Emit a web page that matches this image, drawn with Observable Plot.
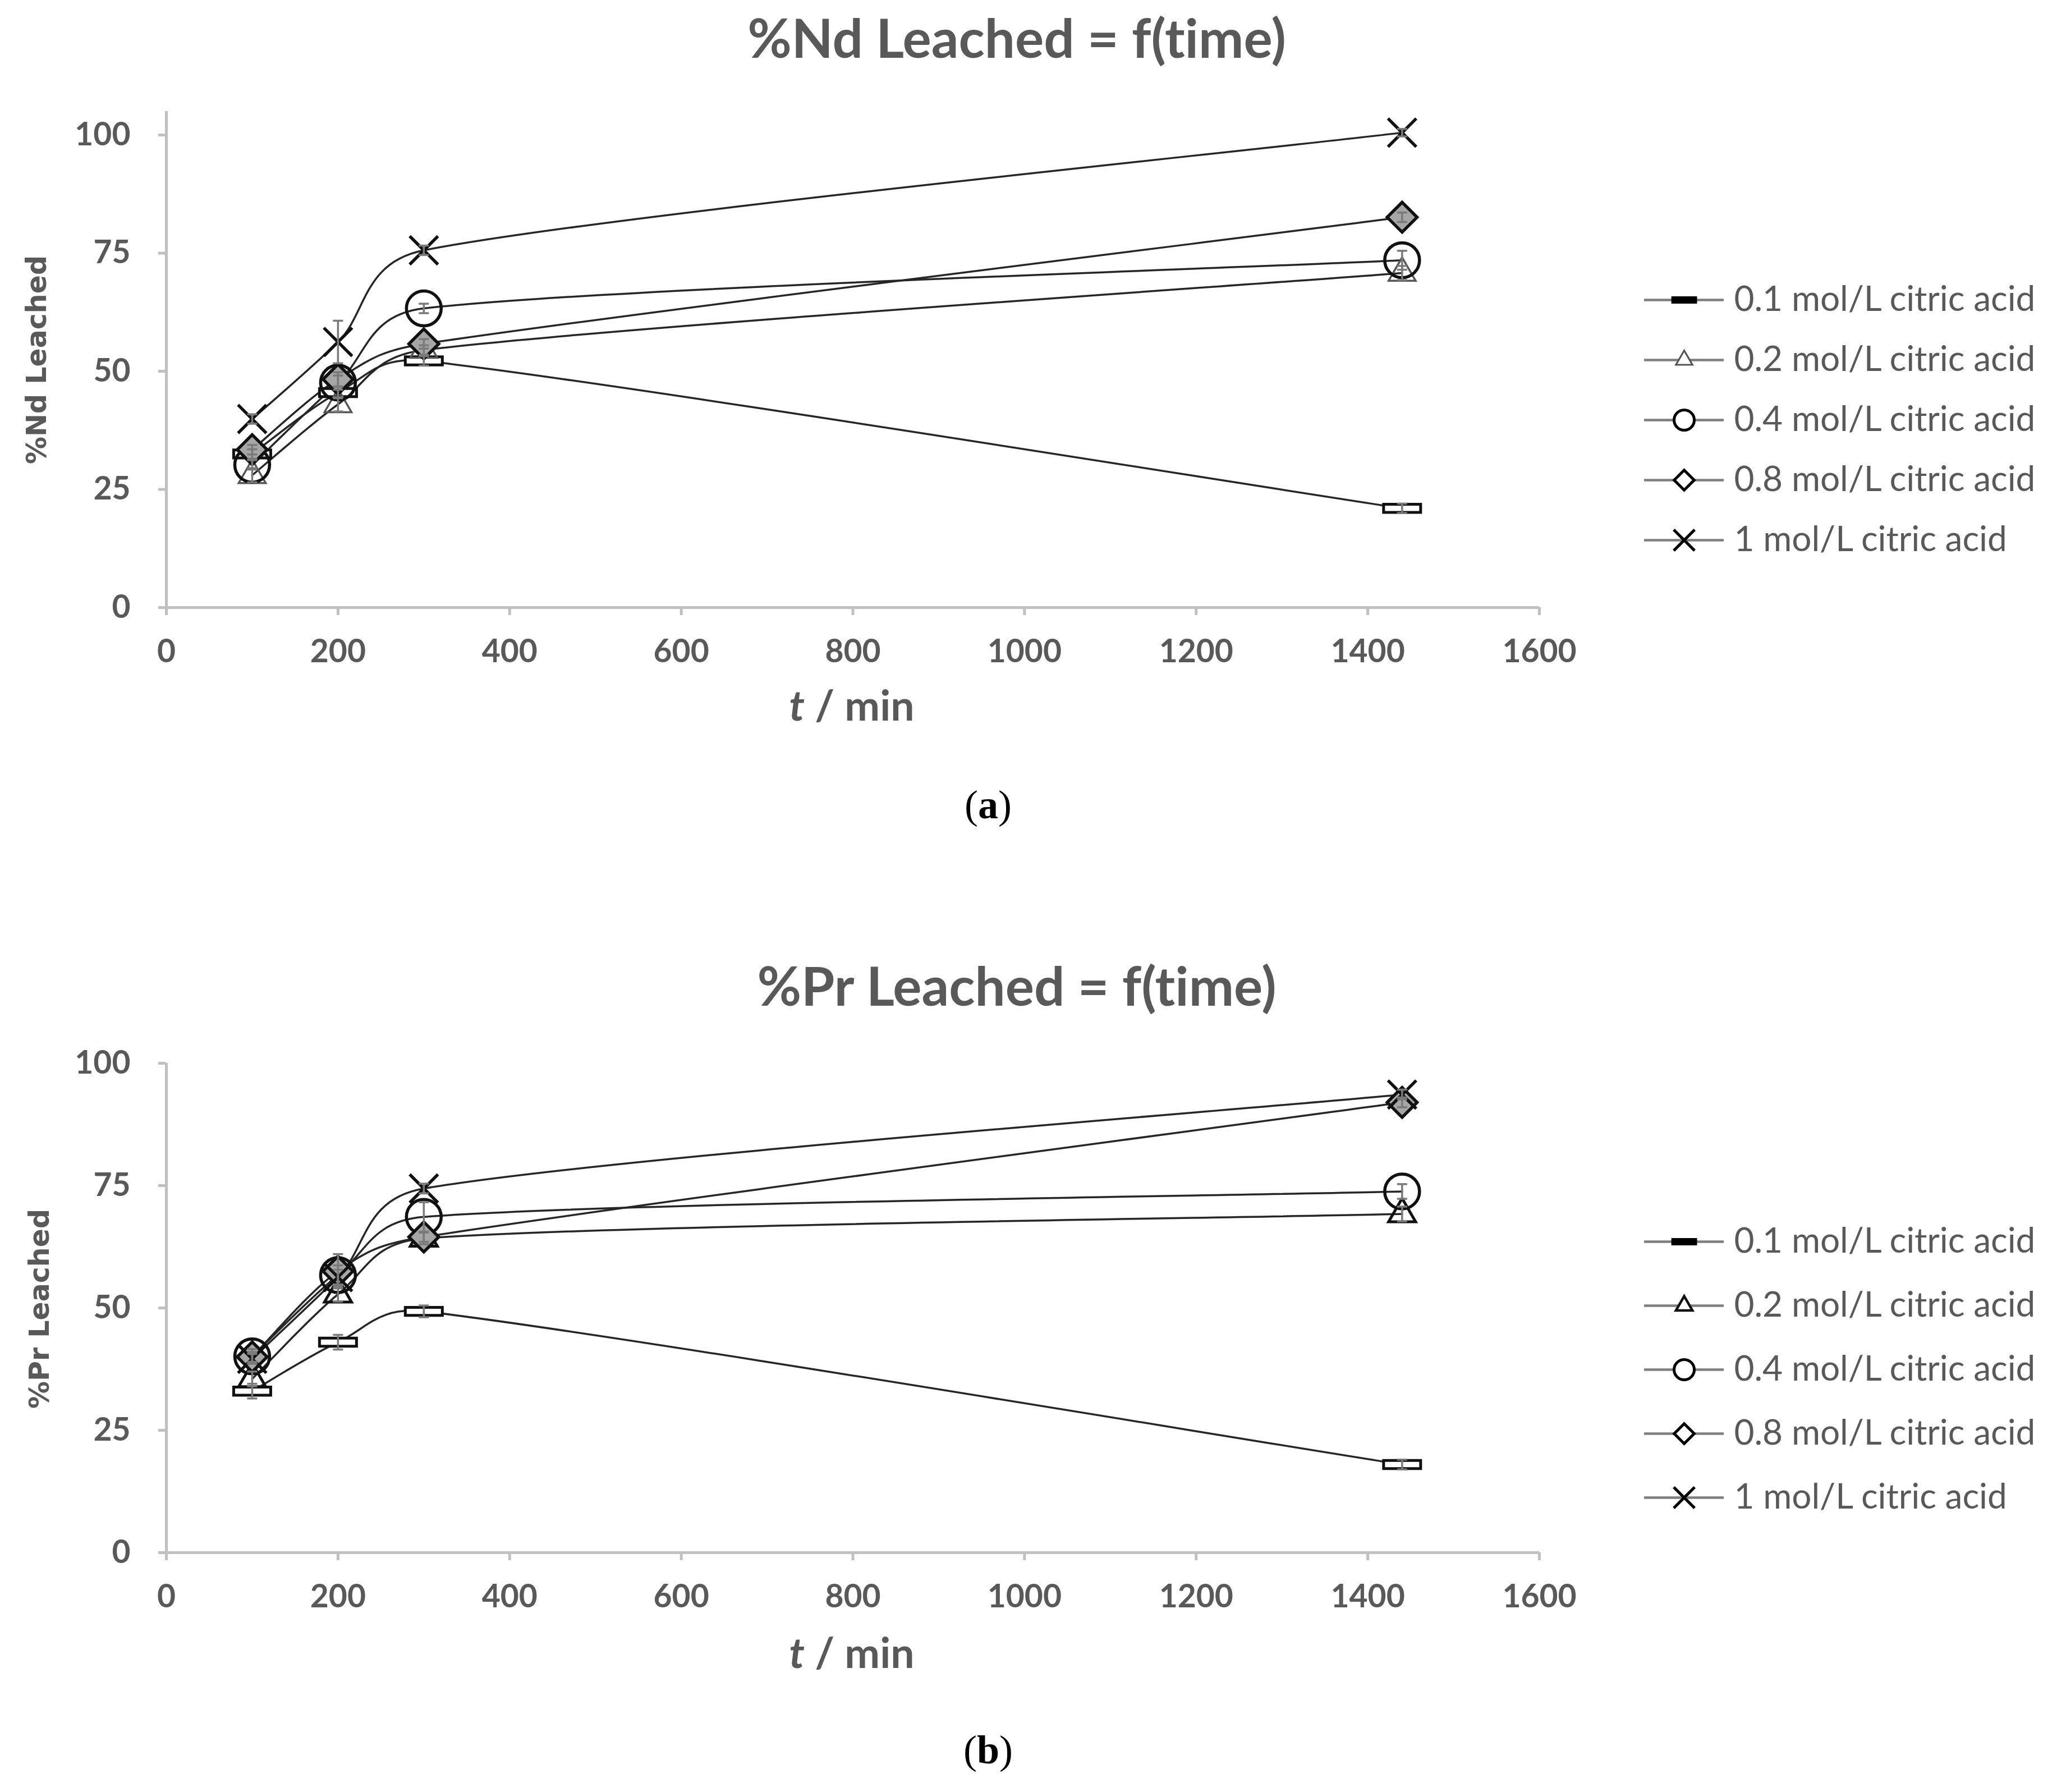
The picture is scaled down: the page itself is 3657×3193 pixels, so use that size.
<!DOCTYPE html>
<html>
<head>
<meta charset="utf-8">
<script src="https://cdn.jsdelivr.net/npm/d3@7"></script>
<script src="https://cdn.jsdelivr.net/npm/@observablehq/plot@0.6"></script>
<style>
html, body { margin: 0; padding: 0; background: #fff; }
* { font-variant-ligatures: none; font-feature-settings: "liga" 0, "clig" 0; }
text { font-variant-ligatures: none; font-feature-settings: "liga" 0, "clig" 0; }
#page { position: relative; width: 3657px; height: 3193px; overflow: hidden; background: #fff; }
.abs { position: absolute; white-space: nowrap; }
.title { font-family: Lato, "Open Sans", sans-serif; font-weight: 700; color: #595959; font-size: 96px; transform: translate(-50%, -50%); }
.ylab { font-family: "DejaVu Sans", sans-serif; font-weight: 700; color: #595959; font-size: 49px; transform: translate(-50%, -50%) rotate(-90deg); }
.xlab { font-family: Lato, sans-serif; font-weight: 700; color: #595959; font-size: 75px; transform: translate(-50%, -50%); }
.cap { font-family: "Liberation Serif", "DejaVu Serif", serif; color: #000; font-size: 72px; transform: translate(-50%, -50%); }
svg { position: absolute; }
</style>
</head>
<body>
<div id="page"></div>
<script>
// ---------------- data ----------------
const times = [100, 200, 300, 1440];
const seriesNames = ["0.1 mol/L citric acid", "0.2 mol/L citric acid", "0.4 mol/L citric acid", "0.8 mol/L citric acid", "1 mol/L citric acid"];
const xTicks = [0, 200, 400, 600, 800, 1000, 1200, 1400, 1600];
const yTicks = [0, 25, 50, 75, 100];

// %Nd leached
const nd01 = [32.5, 45.5, 52.2, 21];
const nd02 = [28, 43, 54.5, 70.8];
const nd04 = [30.2, 47.6, 63.3, 73.5];
const nd08 = [33.4, 48.3, 55.8, 82.6];
const nd10 = [39.9, 56.2, 75.6, 100.5];
const ndErr01 = [1, 1.2, 1, 1];
const ndErr02 = [1.5, 1.5, 1, 1.5];
const ndErr04 = [1, 1.5, 1, 2];
const ndErr08 = [1, 1.5, 1, 1];
const ndErr10 = [1, 4.5, 1, 0.8];

// %Pr leached
const pr01 = [33, 43, 49.3, 18];
const pr02 = [35.5, 52.8, 64.2, 69.2];
const pr04 = [40.1, 56.7, 68.6, 73.8];
const pr08 = [40, 57.5, 64.5, 92];
const pr10 = [39.6, 56.3, 74.4, 93.6];
const prErr01 = [1.5, 1.5, 1.2, 1];
const prErr02 = [1.5, 1.5, 1.2, 1.5];
const prErr04 = [1.5, 2, 3, 1.5];
const prErr08 = [1, 3.5, 1, 1];
const prErr10 = [1, 1.5, 1, 1];

// ---------------- helpers ----------------
// Spreadsheet-style smoothed line: cubic Bezier segments whose tangents are
// 1/6 of the neighbour chord, clamped to half the segment length (pixel space).
function smoothCurve(context) {
  let pts = [];
  return {
    areaStart() {}, areaEnd() {},
    lineStart() { pts = []; },
    point(x, y) { pts.push([+x, +y]); },
    lineEnd() {
      const n = pts.length;
      if (!n) return;
      context.moveTo(pts[0][0], pts[0][1]);
      if (n === 2) { context.lineTo(pts[1][0], pts[1][1]); return; }
      const f = 1 / 6;
      for (let i = 0; i < n - 1; i++) {
        const p0 = pts[Math.max(i - 1, 0)], p1 = pts[i], p2 = pts[i + 1], p3 = pts[Math.min(i + 2, n - 1)];
        let t1 = [(p2[0] - p0[0]) * f, (p2[1] - p0[1]) * f];
        let t2 = [(p3[0] - p1[0]) * f, (p3[1] - p1[1]) * f];
        const half = Math.hypot(p2[0] - p1[0], p2[1] - p1[1]) / 2;
        const l1 = Math.hypot(t1[0], t1[1]), l2 = Math.hypot(t2[0], t2[1]);
        if (l1 > half) t1 = [t1[0] * half / l1, t1[1] * half / l1];
        if (l2 > half) t2 = [t2[0] * half / l2, t2[1] * half / l2];
        context.bezierCurveTo(p1[0] + t1[0], p1[1] + t1[1], p2[0] - t2[0], p2[1] - t2[1], p2[0], p2[1]);
      }
    }
  };
}

const barSymbol = {
  draw(ctx, size) {
    const r = Math.sqrt(size / Math.PI);
    const w = r * 1.1, h = r * 0.24;
    ctx.moveTo(-w, -h); ctx.lineTo(w, -h); ctx.lineTo(w, h); ctx.lineTo(-w, h); ctx.closePath();
  }
};
const capSymbol = {
  draw(ctx, size) {
    const r = Math.sqrt(size / Math.PI);
    ctx.moveTo(-r, 0); ctx.lineTo(r, 0);
  }
};

function rowsOf(vals, errs) {
  const rows = [];
  vals.forEach((arr, si) => arr.forEach((v, i) => rows.push({series: seriesNames[si], t: times[i], v, e: errs[si][i]})));
  return rows;
}

const page = document.getElementById("page");
function addDiv(cls, html, x, y) {
  const d = document.createElement("div");
  d.className = "abs " + cls;
  d.innerHTML = html;
  d.style.left = x + "px";
  d.style.top = y + "px";
  page.appendChild(d);
}

function panel(cfg) {
  const rows = rowsOf(cfg.vals, cfg.errs);
  const of = (s) => rows.filter(d => d.series === seriesNames[s]);
  const plot = Plot.plot({
    width: 2800,
    height: cfg.height,
    marginLeft: 296,
    marginRight: 57,
    marginTop: cfg.marginTop,
    marginBottom: cfg.marginBottom,
    x: {domain: [0, 1600]},
    y: {domain: [0, cfg.yMax]},
    style: {fontFamily: "Lato, sans-serif", background: "transparent", overflow: "visible"},
    marks: [
      Plot.ruleX([0], {y1: 0, y2: cfg.yMax, stroke: "#c0c0c0", strokeWidth: 5}),
      Plot.ruleY([0], {x1: 0, x2: 1600, stroke: "#c0c0c0", strokeWidth: 5}),
      Plot.axisY({ticks: yTicks, tickSize: 14, tickPadding: 50, stroke: "#c0c0c0", strokeWidth: 5,
        fill: "#595959", fontSize: 57, fontWeight: 700, label: null, tickFormat: d => `${d}`}),
      Plot.axisX({ticks: xTicks, tickSize: 14, tickPadding: 43, stroke: "#c0c0c0", strokeWidth: 5,
        fill: "#595959", fontSize: 57, fontWeight: 700, label: null, tickFormat: d => `${d}`}),
      Plot.line(rows, {x: "t", y: "v", z: "series", curve: smoothCurve, stroke: "#262626", strokeWidth: 3.5}),
      // markers
      Plot.dot(of(0), {x: "t", y: "v", symbol: barSymbol, r: 30, stroke: "#111", strokeWidth: 5, fill: "#fff"}),
      Plot.dot(of(1), {x: "t", y: "v", symbol: d3.symbolTriangle2, r: 23, stroke: cfg.triStroke, strokeWidth: cfg.triWidth, fill: "none"}),
      Plot.dot(of(2), {x: "t", y: "v", symbol: d3.symbolCircle, r: 31, stroke: "#111", strokeWidth: 5.5, fill: "none"}),
      Plot.dot(of(3), {x: "t", y: "v", symbol: d3.symbolDiamond2, r: 24, stroke: "#111", strokeWidth: 5.5, fill: "#a6a6a6"}),
      Plot.dot(of(4), {x: "t", y: "v", symbol: d3.symbolTimes, r: 23, stroke: "#111", strokeWidth: 5.5}),
      // error bars
      Plot.ruleX(rows, {x: "t", y1: d => d.v - d.e, y2: d => d.v + d.e, stroke: "#7a7a7a", strokeWidth: 3.5}),
      Plot.dot(rows, {x: "t", y: d => d.v + d.e, symbol: capSymbol, r: 9, stroke: "#7a7a7a", strokeWidth: 3.5}),
      Plot.dot(rows, {x: "t", y: d => d.v - d.e, symbol: capSymbol, r: 9, stroke: "#7a7a7a", strokeWidth: 3.5})
    ]
  });
  plot.style.left = "0px";
  plot.style.top = cfg.top + "px";
  page.appendChild(plot);

  const legend = Plot.plot({
    width: 757,
    height: cfg.legHeight,
    margin: 0,
    x: {domain: [0, 1], range: [30, 172], axis: null},
    y: {type: "point", domain: seriesNames, range: cfg.legRange, padding: 0, axis: null},
    style: {background: "transparent", overflow: "visible"},
    marks: [
      Plot.ruleY(seriesNames, {y: d => d, x1: 0, x2: 1, stroke: "#7f7f7f", strokeWidth: 4.5}),
      Plot.dot([seriesNames[0]], {x: 0.5, y: d => d, symbol: barSymbol, r: 19, stroke: "#000", strokeWidth: 4, fill: "#000"}),
      Plot.dot([seriesNames[1]], {x: 0.5, y: d => d, symbol: d3.symbolTriangle2, r: 14, stroke: cfg.triStroke, strokeWidth: cfg.triWidth * 0.9, fill: "#fff"}),
      Plot.dot([seriesNames[2]], {x: 0.5, y: d => d, symbol: d3.symbolCircle, r: 18, stroke: "#000", strokeWidth: 5, fill: "#fff"}),
      Plot.dot([seriesNames[3]], {x: 0.5, y: d => d, symbol: d3.symbolDiamond2, r: 16, stroke: "#000", strokeWidth: 5, fill: "#fff"}),
      Plot.dot([seriesNames[4]], {x: 0.5, y: d => d, symbol: d3.symbolTimes, r: 17, stroke: "#000", strokeWidth: 5}),
      Plot.text(seriesNames, {x: 1, y: d => d, text: d => d, dx: 18, textAnchor: "start", fill: "#595959",
        fontSize: 62, fontFamily: "Lato, sans-serif"})
    ]
  });
  legend.style.left = "2900px";
  legend.style.top = cfg.legTop + "px";
  page.appendChild(legend);

  addDiv("title", cfg.title, 1812, cfg.titleY);
  addDiv("ylab", cfg.ylab, cfg.ylabX, cfg.ylabY);
  addDiv("xlab", "<i>t</i> / min", 1518, cfg.xlabY);
  addDiv("cap", cfg.cap, 1761, cfg.capY);
}

panel({
  vals: [nd01, nd02, nd04, nd08, nd10],
  errs: [ndErr01, ndErr02, ndErr04, ndErr08, ndErr10],
  yMax: 105, top: 0, height: 1200, marginTop: 198, marginBottom: 118,
  triStroke: "#555", triWidth: 3.5,
  legTop: 450, legHeight: 620, legRange: [82, 513],
  title: "%Nd Leached = f(time)", titleY: 65,
  ylab: "%Nd Leached", ylabX: 65, ylabY: 641,
  xlabY: 1255, cap: "(<b>a</b>)", capY: 1434
});

panel({
  vals: [pr01, pr02, pr04, pr08, pr10],
  errs: [prErr01, prErr02, prErr04, prErr08, prErr10],
  yMax: 100, top: 1800, height: 1100, marginTop: 94, marginBottom: 134,
  triStroke: "#111", triWidth: 5,
  legTop: 2150, legHeight: 620, legRange: [61, 518],
  title: "%Pr Leached = f(time)", titleY: 1754,
  ylab: "%Pr Leached", ylabX: 70, ylabY: 2332,
  xlabY: 2943, cap: "(<b>b</b>)", capY: 3118
});
</script>
</body>
</html>
